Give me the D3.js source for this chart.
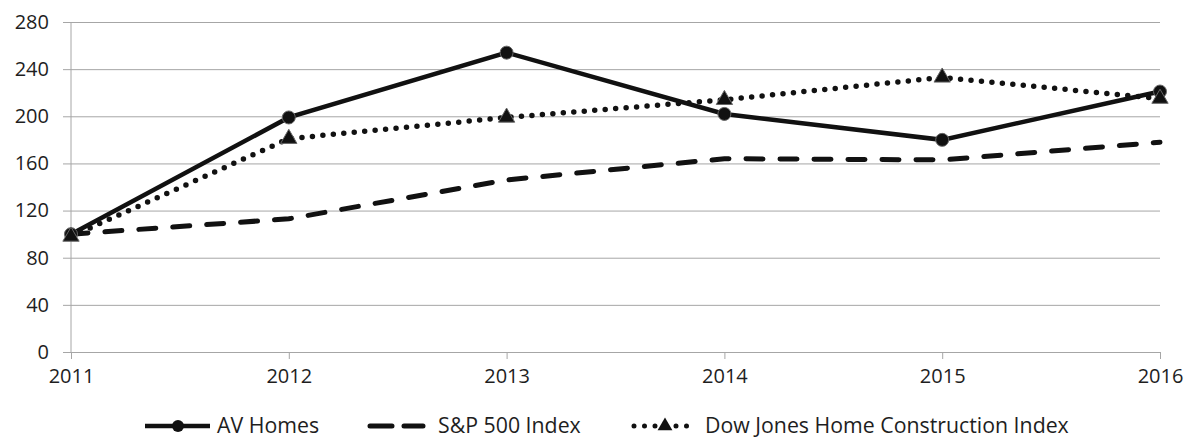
<!DOCTYPE html>
<html>
<head>
<meta charset="utf-8">
<script src="https://cdn.jsdelivr.net/npm/d3@7"></script>
<style>
  body { margin: 0; background: #fff; }
  svg text { font-family: "Open Sans", "Noto Sans", sans-serif; fill: #1e1e1e; }
</style>
</head>
<body>
<div id="chart"></div>
<script>
// chart data
const years = ["2011", "2012", "2013", "2014", "2015", "2016"];
const avHomes = [100, 199, 254, 202, 180, 221];
const sp500 = [100, 113, 146, 164, 163, 178];
const dowJones = [98, 181, 199, 214, 233, 215];
const yTicks = [0, 40, 80, 120, 160, 200, 240, 280];

const W = 1186, H = 444;
const margin = { top: 22, right: 26, bottom: 92, left: 71 };
const width = W - margin.left - margin.right;
const height = H - margin.top - margin.bottom;

const svg = d3.select("#chart").append("svg")
  .attr("width", W)
  .attr("height", H);

const g = svg.append("g")
  .attr("transform", "translate(" + margin.left + "," + margin.top + ")");

const x = d3.scalePoint().domain(years).range([0, width]);
const y = d3.scaleLinear().domain([0, 280]).range([height, 0]);

// gridlines + y labels
const yAxis = g.append("g")
  .call(d3.axisLeft(y).tickValues(yTicks).tickSize(8).tickPadding(14));
yAxis.select(".domain").remove();
yAxis.selectAll(".tick line")
  .attr("x2", width)
  .attr("x1", -8)
  .attr("stroke", "#a6a6a6");
yAxis.selectAll("text").style("font-size", "20px");

// y axis line
g.append("line")
  .attr("x1", 0).attr("x2", 0)
  .attr("y1", 0).attr("y2", height)
  .attr("stroke", "#a6a6a6");

// x axis
const xAxis = g.append("g")
  .attr("transform", "translate(0," + height + ")")
  .call(d3.axisBottom(x).tickSize(7).tickPadding(10));
xAxis.select(".domain").attr("stroke", "#a6a6a6");
xAxis.selectAll(".tick line").attr("stroke", "#a6a6a6");
xAxis.selectAll("text").style("font-size", "20px");

const line = d3.line()
  .x((d, i) => x(years[i]))
  .y(d => y(d));

// S&P 500 dashed
g.append("path")
  .datum(sp500)
  .attr("d", line)
  .attr("fill", "none")
  .attr("stroke", "#111")
  .attr("stroke-width", 5)
  .attr("stroke-linecap", "round")
  .attr("stroke-dasharray", "17,17");

// Dow Jones dotted
g.append("path")
  .datum(dowJones)
  .attr("d", line)
  .attr("fill", "none")
  .attr("stroke", "#111")
  .attr("stroke-width", 5.5)
  .attr("stroke-linecap", "round")
  .attr("stroke-dasharray", "0,10.5");

// AV Homes solid
g.append("path")
  .datum(avHomes)
  .attr("d", line)
  .attr("fill", "none")
  .attr("stroke", "#111")
  .attr("stroke-width", 4.5);

const tri = d3.symbol().type(d3.symbolTriangle).size(115);

g.selectAll(".av-dot")
  .data(avHomes)
  .enter()
  .append("circle")
  .attr("cx", (d, i) => x(years[i]))
  .attr("cy", d => y(d))
  .attr("r", 6.5)
  .attr("fill", "#111")
  .attr("stroke", "#666")
  .attr("stroke-width", 1);

g.selectAll(".dj-tri")
  .data(dowJones)
  .enter()
  .append("path")
  .attr("d", tri)
  .attr("transform", (d, i) => "translate(" + x(years[i]) + "," + y(d) + ")")
  .attr("fill", "#111")
  .attr("stroke", "#666")
  .attr("stroke-width", 1);

// legend
const legY = 426;
const legFont = "21.3px";
const leg = svg.append("g");

leg.append("line")
  .attr("x1", 145).attr("x2", 210).attr("y1", legY).attr("y2", legY)
  .attr("stroke", "#111").attr("stroke-width", 4.5);
leg.append("circle")
  .attr("cx", 178).attr("cy", legY).attr("r", 6)
  .attr("fill", "#111");
leg.append("text")
  .attr("x", 217).attr("y", legY + 7)
  .style("font-size", legFont)
  .text("AV Homes");

leg.append("line")
  .attr("x1", 370).attr("x2", 423).attr("y1", legY).attr("y2", legY)
  .attr("stroke", "#111").attr("stroke-width", 5)
  .attr("stroke-linecap", "round")
  .attr("stroke-dasharray", "22,12");
leg.append("text")
  .attr("x", 438).attr("y", legY + 7)
  .style("font-size", legFont)
  .text("S&P 500 Index");

leg.append("line")
  .attr("x1", 634).attr("x2", 688).attr("y1", legY).attr("y2", legY)
  .attr("stroke", "#111").attr("stroke-width", 5)
  .attr("stroke-linecap", "round")
  .attr("stroke-dasharray", "0,10.5");
leg.append("path")
  .attr("d", d3.symbol().type(d3.symbolTriangle).size(95))
  .attr("transform", "translate(665," + legY + ")")
  .attr("fill", "#111");
leg.append("text")
  .attr("x", 705).attr("y", legY + 7)
  .style("font-size", legFont)
  .text("Dow Jones Home Construction Index");
</script>
</body>
</html>
